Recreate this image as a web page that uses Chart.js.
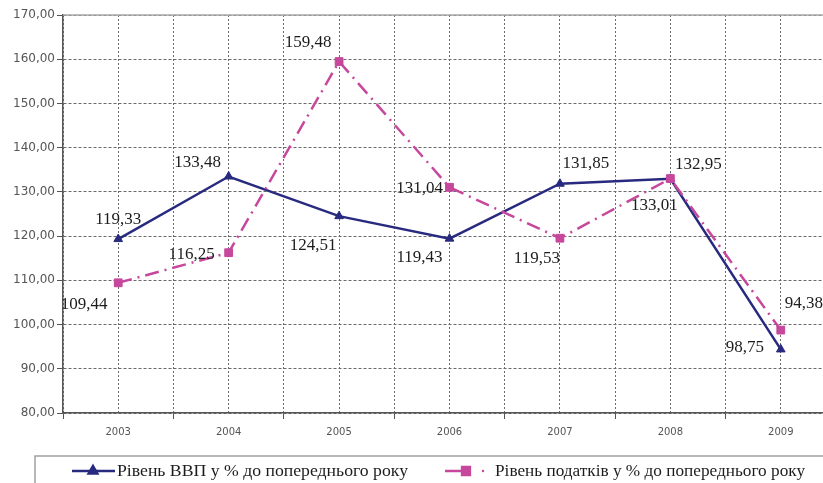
<!DOCTYPE html>
<html>
<head>
<meta charset="utf-8">
<script src="https://cdn.jsdelivr.net/npm/chart.js@4.4.1/dist/chart.umd.min.js"></script>
<style>
html, body { margin: 0; padding: 0; background: #fff; overflow: hidden; }
#wrap { width: 850px; height: 483px; }
</style>
</head>
<body>
<div id="wrap"><canvas id="chart" width="850" height="483"></canvas></div>
<script>
const years = ['2003', '2004', '2005', '2006', '2007', '2008', '2009'];
const gdpValues = [119.33, 133.48, 124.51, 119.43, 131.85, 132.95, 94.38];
const taxValues = [109.44, 116.25, 159.48, 131.04, 119.53, 133.01, 98.75];
// value labels exactly as printed beside the points
const gdpLabels = ['119,33', '133,48', '124,51', '119,43', '131,85', '132,95', '98,75'];
const taxLabels = ['109,44', '116,25', '159,48', '131,04', '119,53', '133,01', '94,38'];
const gdpName = 'Рівень ВВП у % до попереднього року';
const taxName = 'Рівень податків у % до попереднього року';

// where each value label sits relative to its point (px)
const gdpLabelOffsets = [[0, -20], [-31, -14], [-26, 29], [-30, 19], [26, -20], [28, -14], [-36, -2]];
const taxLabelOffsets = [[-34, 22], [-37, 2], [-31, -19], [-30, 1], [-23, 20], [-16, 27], [23, -27]];

const blue = '#272a7e';
const pink = '#c6479c';
const taxDash = [14, 6, 2, 6];

// Draws the printed number next to every point
const valueLabels = {
    id: 'valueLabels',
    afterDatasetsDraw(chart) {
        const ctx = chart.ctx;
        ctx.save();
        ctx.font = '17px "Liberation Serif"';
        ctx.fillStyle = '#1c1c1c';
        ctx.textAlign = 'center';
        ctx.textBaseline = 'middle';
        chart.data.datasets.forEach((ds, i) => {
            const meta = chart.getDatasetMeta(i);
            meta.data.forEach((pt, j) => {
                const off = ds.labelOffsets[j];
                ctx.fillText(ds.valueLabels[j], pt.x + off[0], pt.y + off[1]);
            });
        });
        ctx.restore();
    }
};

// solid grey line along the top of the plot
const topFrame = {
    id: 'topFrame',
    beforeDatasetsDraw(chart) {
        const {ctx, chartArea} = chart;
        ctx.save();
        ctx.strokeStyle = '#a8a8a8';
        ctx.lineWidth = 1.5;
        ctx.beginPath();
        ctx.moveTo(chartArea.left, chartArea.top);
        ctx.lineTo(chartArea.right, chartArea.top);
        ctx.stroke();
        ctx.restore();
    }
};

function fitText(ctx, text, x, y, w) {
    const m = ctx.measureText(text).width;
    ctx.save();
    ctx.translate(x, y);
    ctx.scale(w / m, 1);
    ctx.fillText(text, 0, 0);
    ctx.restore();
}

// boxed legend under the axis, like the Excel original
const bottomLegend = {
    id: 'bottomLegend',
    afterDraw(chart) {
        const ctx = chart.ctx;
        const top = 456, midY = 471;
        ctx.save();
        ctx.strokeStyle = '#a0a0a0';
        ctx.lineWidth = 1.5;
        ctx.beginPath();
        ctx.moveTo(35, chart.height);
        ctx.lineTo(35, top);
        ctx.lineTo(chart.width, top);
        ctx.stroke();

        // ВВП
        ctx.strokeStyle = blue;
        ctx.fillStyle = blue;
        ctx.lineWidth = 2.5;
        ctx.beginPath();
        ctx.moveTo(72, midY);
        ctx.lineTo(115, midY);
        ctx.stroke();
        Chart.helpers.drawPoint(ctx, {pointStyle: 'triangle', radius: 5, rotation: 0, borderWidth: 1}, 93, midY);

        // податки
        ctx.strokeStyle = pink;
        ctx.fillStyle = pink;
        ctx.beginPath();
        ctx.moveTo(445, midY);
        ctx.lineTo(468, midY);
        ctx.stroke();
        Chart.helpers.drawPoint(ctx, {pointStyle: 'rect', radius: 5.5, rotation: 0, borderWidth: 1}, 466, midY);
        ctx.beginPath();
        ctx.arc(483, midY, 1.2, 0, Math.PI * 2);
        ctx.fill();

        ctx.fillStyle = '#1c1c1c';
        ctx.font = '16px "Liberation Serif"';
        ctx.textAlign = 'left';
        ctx.textBaseline = 'middle';
        fitText(ctx, gdpName, 117, midY + 1, 291);
        fitText(ctx, taxName, 495, midY + 1, 310);
        ctx.restore();
    }
};

const ctx = document.getElementById('chart').getContext('2d');

const chart = new Chart(ctx, {
    type: 'line',
    data: {
        datasets: [{
            label: taxName,
            data: taxValues.map((v, i) => ({x: i, y: v})),
            valueLabels: taxLabels,
            labelOffsets: taxLabelOffsets,
            borderColor: pink,
            backgroundColor: pink,
            borderWidth: 2.5,
            borderDash: taxDash,
            pointStyle: 'rect',
            pointRadius: 5.5,
            pointBorderWidth: 1,
            order: 0
        }, {
            label: gdpName,
            data: gdpValues.map((v, i) => ({x: i, y: v})),
            valueLabels: gdpLabels,
            labelOffsets: gdpLabelOffsets,
            borderColor: blue,
            backgroundColor: blue,
            borderWidth: 2.5,
            pointStyle: 'triangle',
            pointRadius: 5,
            pointBorderWidth: 1,
            order: 1
        }]
    },
    options: {
        responsive: false,
        animation: false,
        devicePixelRatio: 1,
        layout: {padding: {left: 0, right: 14, top: 15, bottom: 30}},
        plugins: {
            legend: {display: false},
            tooltip: {enabled: false}
        },
        scales: {
            x: {
                type: 'linear',
                min: -0.5,
                max: 6.5,
                afterFit(scale) { scale.height = 40; },
                ticks: {
                    stepSize: 0.5,
                    autoSkip: false,
                    maxRotation: 0,
                    padding: 7,
                    color: '#555',
                    font: {family: '"DejaVu Sans"', size: 10},
                    callback: v => Number.isInteger(v) ? years[v] : ''
                },
                grid: {
                    color: '#6a6a6a',
                    lineWidth: 1,
                    tickLength: 6,
                    tickColor: c => (c.tick && Number.isInteger(c.tick.value)) ? 'rgba(0,0,0,0)' : '#555'
                },
                border: {display: true, color: '#555', width: 1.5, dash: [2, 2]}
            },
            y: {
                min: 80,
                max: 170,
                afterFit(scale) { scale.width = 63; },
                ticks: {
                    stepSize: 10,
                    padding: 2,
                    color: '#555',
                    font: {family: '"DejaVu Sans"', size: 12},
                    callback: v => v.toFixed(2).replace('.', ',')
                },
                grid: {
                    color: '#6a6a6a',
                    lineWidth: 1,
                    tickLength: 6,
                    tickColor: '#555'
                },
                border: {display: true, color: '#555', width: 1.5, dash: [3, 2]}
            }
        }
    },
    plugins: [topFrame, valueLabels, bottomLegend]
});
</script>
</body>
</html>
